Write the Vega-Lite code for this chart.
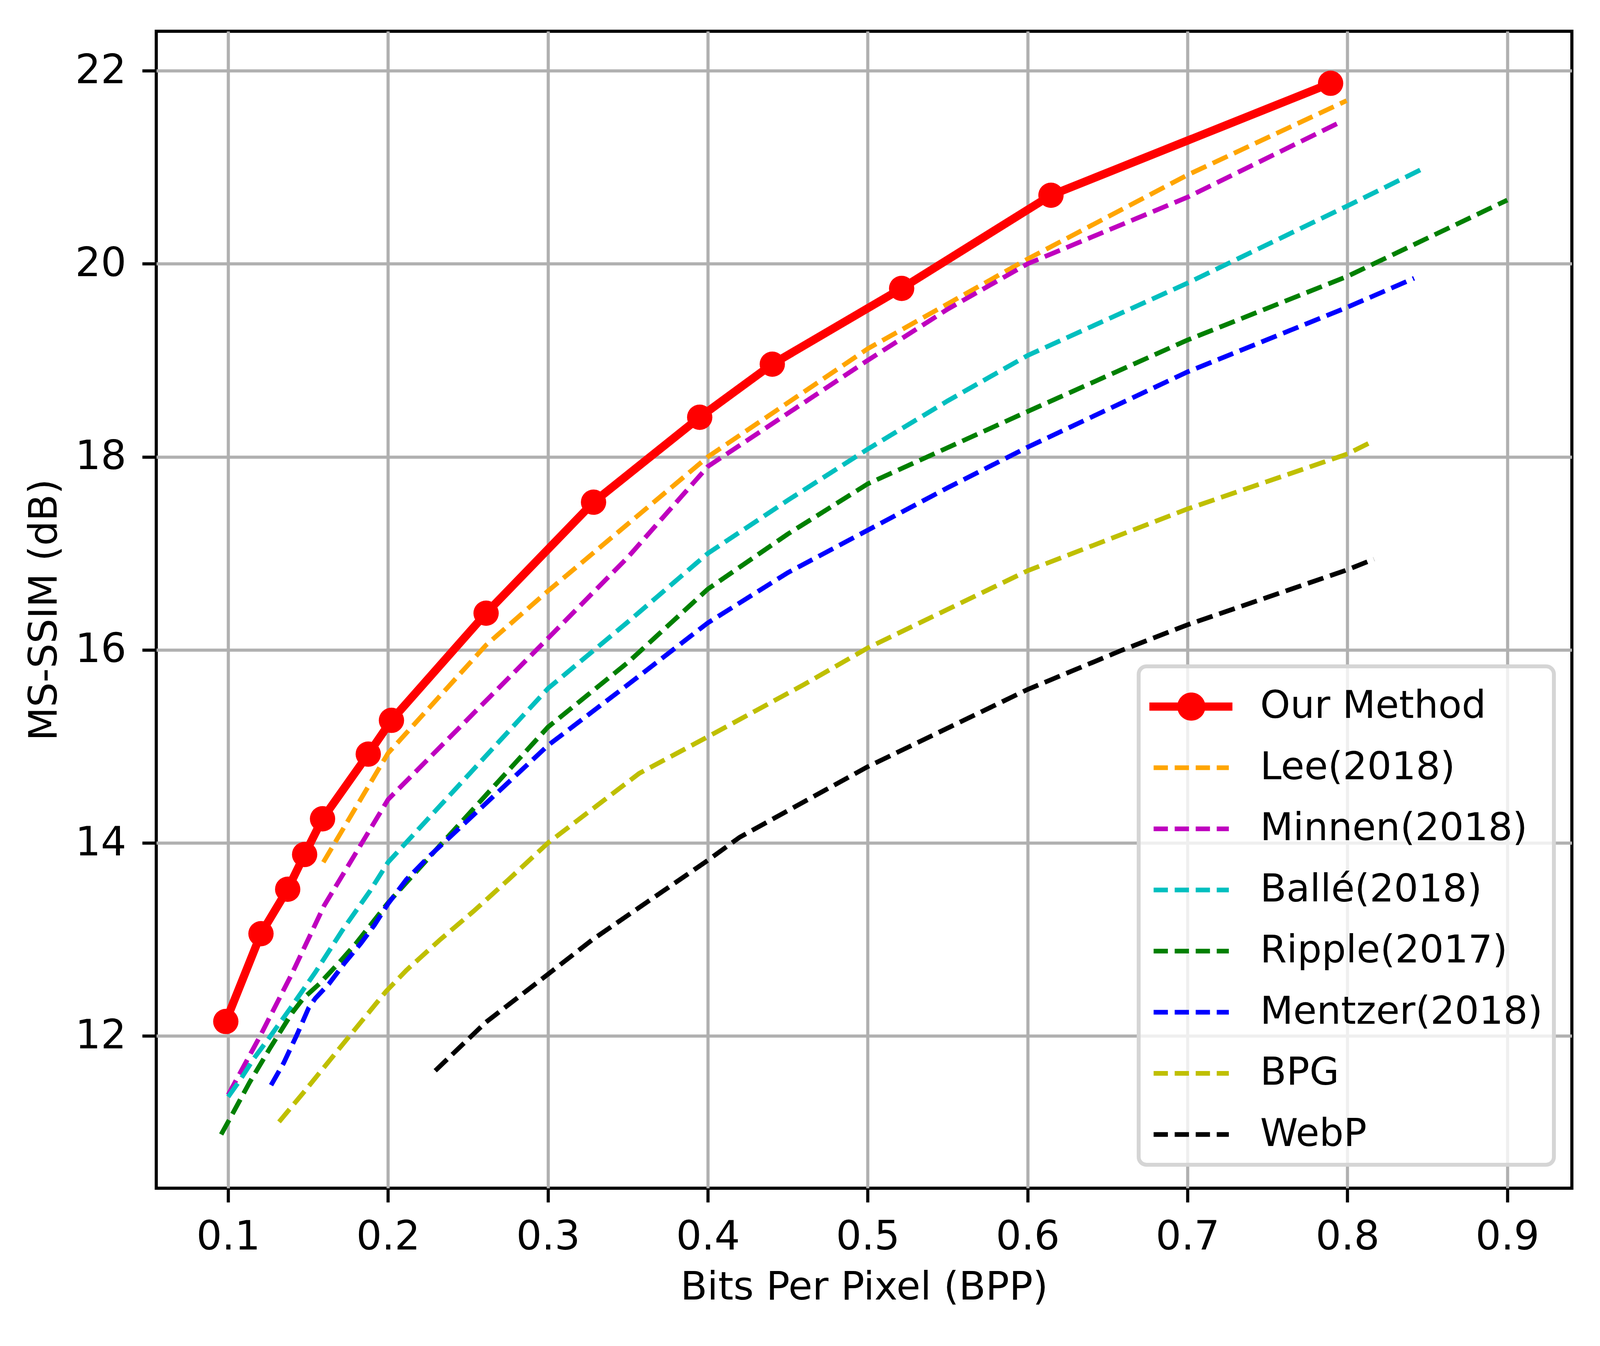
{
  "$schema": "https://vega.github.io/schema/vega-lite/v6.json",
  "width": 4096,
  "height": 3446,
  "autosize": {"type": "fit", "contains": "padding"},
  "padding": {"left": 64, "top": 80, "right": 72, "bottom": 100},
  "background": "white",
  "data": {
    "values": [
      {"method": "Our Method", "bpp": 0.0985, "msssim": 12.15},
      {"method": "Our Method", "bpp": 0.1205, "msssim": 13.06},
      {"method": "Our Method", "bpp": 0.1372, "msssim": 13.52},
      {"method": "Our Method", "bpp": 0.1478, "msssim": 13.88},
      {"method": "Our Method", "bpp": 0.159, "msssim": 14.25},
      {"method": "Our Method", "bpp": 0.1876, "msssim": 14.92},
      {"method": "Our Method", "bpp": 0.2021, "msssim": 15.27},
      {"method": "Our Method", "bpp": 0.2613, "msssim": 16.38},
      {"method": "Our Method", "bpp": 0.3285, "msssim": 17.53},
      {"method": "Our Method", "bpp": 0.3949, "msssim": 18.41},
      {"method": "Our Method", "bpp": 0.4403, "msssim": 18.96},
      {"method": "Our Method", "bpp": 0.5212, "msssim": 19.745},
      {"method": "Our Method", "bpp": 0.6146, "msssim": 20.71},
      {"method": "Our Method", "bpp": 0.7895, "msssim": 21.87},

      {"method": "Lee(2018)", "bpp": 0.1595, "msssim": 13.8},
      {"method": "Lee(2018)", "bpp": 0.2, "msssim": 14.93},
      {"method": "Lee(2018)", "bpp": 0.2613, "msssim": 16.05},
      {"method": "Lee(2018)", "bpp": 0.3, "msssim": 16.61},
      {"method": "Lee(2018)", "bpp": 0.4, "msssim": 18.0},
      {"method": "Lee(2018)", "bpp": 0.5, "msssim": 19.12},
      {"method": "Lee(2018)", "bpp": 0.6, "msssim": 20.05},
      {"method": "Lee(2018)", "bpp": 0.7, "msssim": 20.92},
      {"method": "Lee(2018)", "bpp": 0.7995, "msssim": 21.69},

      {"method": "Minnen(2018)", "bpp": 0.1, "msssim": 11.39},
      {"method": "Minnen(2018)", "bpp": 0.12, "msssim": 12.0},
      {"method": "Minnen(2018)", "bpp": 0.14, "msssim": 12.65},
      {"method": "Minnen(2018)", "bpp": 0.16, "msssim": 13.35},
      {"method": "Minnen(2018)", "bpp": 0.18, "msssim": 13.9},
      {"method": "Minnen(2018)", "bpp": 0.2, "msssim": 14.45},
      {"method": "Minnen(2018)", "bpp": 0.3, "msssim": 16.12},
      {"method": "Minnen(2018)", "bpp": 0.35, "msssim": 16.96},
      {"method": "Minnen(2018)", "bpp": 0.4, "msssim": 17.9},
      {"method": "Minnen(2018)", "bpp": 0.5, "msssim": 19.0},
      {"method": "Minnen(2018)", "bpp": 0.55, "msssim": 19.53},
      {"method": "Minnen(2018)", "bpp": 0.6, "msssim": 20.0},
      {"method": "Minnen(2018)", "bpp": 0.7, "msssim": 20.69},
      {"method": "Minnen(2018)", "bpp": 0.797, "msssim": 21.48},

      {"method": "Ballé(2018)", "bpp": 0.1, "msssim": 11.37},
      {"method": "Ballé(2018)", "bpp": 0.1077, "msssim": 11.55},
      {"method": "Ballé(2018)", "bpp": 0.1162, "msssim": 11.77},
      {"method": "Ballé(2018)", "bpp": 0.1247, "msssim": 11.96},
      {"method": "Ballé(2018)", "bpp": 0.139, "msssim": 12.29},
      {"method": "Ballé(2018)", "bpp": 0.1545, "msssim": 12.66},
      {"method": "Ballé(2018)", "bpp": 0.1716, "msssim": 13.1},
      {"method": "Ballé(2018)", "bpp": 0.1886, "msssim": 13.5},
      {"method": "Ballé(2018)", "bpp": 0.2, "msssim": 13.8},
      {"method": "Ballé(2018)", "bpp": 0.3, "msssim": 15.6},
      {"method": "Ballé(2018)", "bpp": 0.35, "msssim": 16.29},
      {"method": "Ballé(2018)", "bpp": 0.4, "msssim": 17.0},
      {"method": "Ballé(2018)", "bpp": 0.45, "msssim": 17.55},
      {"method": "Ballé(2018)", "bpp": 0.5, "msssim": 18.08},
      {"method": "Ballé(2018)", "bpp": 0.55, "msssim": 18.58},
      {"method": "Ballé(2018)", "bpp": 0.6, "msssim": 19.05},
      {"method": "Ballé(2018)", "bpp": 0.7, "msssim": 19.8},
      {"method": "Ballé(2018)", "bpp": 0.8, "msssim": 20.6},
      {"method": "Ballé(2018)", "bpp": 0.849, "msssim": 21.0},

      {"method": "Ripple(2017)", "bpp": 0.0956, "msssim": 10.98},
      {"method": "Ripple(2017)", "bpp": 0.1006, "msssim": 11.13},
      {"method": "Ripple(2017)", "bpp": 0.1134, "msssim": 11.52},
      {"method": "Ripple(2017)", "bpp": 0.126, "msssim": 11.87},
      {"method": "Ripple(2017)", "bpp": 0.14, "msssim": 12.24},
      {"method": "Ripple(2017)", "bpp": 0.147, "msssim": 12.39},
      {"method": "Ripple(2017)", "bpp": 0.157, "msssim": 12.54},
      {"method": "Ripple(2017)", "bpp": 0.1688, "msssim": 12.75},
      {"method": "Ripple(2017)", "bpp": 0.18, "msssim": 12.96},
      {"method": "Ripple(2017)", "bpp": 0.2, "msssim": 13.38},
      {"method": "Ripple(2017)", "bpp": 0.2295, "msssim": 13.92},
      {"method": "Ripple(2017)", "bpp": 0.3, "msssim": 15.2},
      {"method": "Ripple(2017)", "bpp": 0.35, "msssim": 15.87},
      {"method": "Ripple(2017)", "bpp": 0.4, "msssim": 16.63},
      {"method": "Ripple(2017)", "bpp": 0.45, "msssim": 17.2},
      {"method": "Ripple(2017)", "bpp": 0.5, "msssim": 17.72},
      {"method": "Ripple(2017)", "bpp": 0.6, "msssim": 18.47},
      {"method": "Ripple(2017)", "bpp": 0.7, "msssim": 19.21},
      {"method": "Ripple(2017)", "bpp": 0.8, "msssim": 19.87},
      {"method": "Ripple(2017)", "bpp": 0.9, "msssim": 20.66},

      {"method": "Mentzer(2018)", "bpp": 0.1268, "msssim": 11.49},
      {"method": "Mentzer(2018)", "bpp": 0.1347, "msssim": 11.72},
      {"method": "Mentzer(2018)", "bpp": 0.1432, "msssim": 12.02},
      {"method": "Mentzer(2018)", "bpp": 0.1503, "msssim": 12.29},
      {"method": "Mentzer(2018)", "bpp": 0.1545, "msssim": 12.39},
      {"method": "Mentzer(2018)", "bpp": 0.163, "msssim": 12.54},
      {"method": "Mentzer(2018)", "bpp": 0.173, "msssim": 12.76},
      {"method": "Mentzer(2018)", "bpp": 0.183, "msssim": 12.96},
      {"method": "Mentzer(2018)", "bpp": 0.1915, "msssim": 13.15},
      {"method": "Mentzer(2018)", "bpp": 0.2, "msssim": 13.37},
      {"method": "Mentzer(2018)", "bpp": 0.2114, "msssim": 13.62},
      {"method": "Mentzer(2018)", "bpp": 0.225, "msssim": 13.85},
      {"method": "Mentzer(2018)", "bpp": 0.3, "msssim": 15.01},
      {"method": "Mentzer(2018)", "bpp": 0.35, "msssim": 15.64},
      {"method": "Mentzer(2018)", "bpp": 0.4, "msssim": 16.28},
      {"method": "Mentzer(2018)", "bpp": 0.45, "msssim": 16.8},
      {"method": "Mentzer(2018)", "bpp": 0.5, "msssim": 17.24},
      {"method": "Mentzer(2018)", "bpp": 0.55, "msssim": 17.68},
      {"method": "Mentzer(2018)", "bpp": 0.6, "msssim": 18.1},
      {"method": "Mentzer(2018)", "bpp": 0.7, "msssim": 18.88},
      {"method": "Mentzer(2018)", "bpp": 0.8, "msssim": 19.55},
      {"method": "Mentzer(2018)", "bpp": 0.8417, "msssim": 19.85},

      {"method": "BPG", "bpp": 0.1318, "msssim": 11.11},
      {"method": "BPG", "bpp": 0.1474, "msssim": 11.42},
      {"method": "BPG", "bpp": 0.1759, "msssim": 12.0},
      {"method": "BPG", "bpp": 0.1986, "msssim": 12.46},
      {"method": "BPG", "bpp": 0.2114, "msssim": 12.68},
      {"method": "BPG", "bpp": 0.2327, "msssim": 13.0},
      {"method": "BPG", "bpp": 0.254, "msssim": 13.3},
      {"method": "BPG", "bpp": 0.2753, "msssim": 13.62},
      {"method": "BPG", "bpp": 0.3, "msssim": 14.0},
      {"method": "BPG", "bpp": 0.357, "msssim": 14.72},
      {"method": "BPG", "bpp": 0.4, "msssim": 15.1},
      {"method": "BPG", "bpp": 0.46, "msssim": 15.64},
      {"method": "BPG", "bpp": 0.5, "msssim": 16.02},
      {"method": "BPG", "bpp": 0.6, "msssim": 16.82},
      {"method": "BPG", "bpp": 0.7, "msssim": 17.46},
      {"method": "BPG", "bpp": 0.8, "msssim": 18.03},
      {"method": "BPG", "bpp": 0.8145, "msssim": 18.15},

      {"method": "WebP", "bpp": 0.2295, "msssim": 11.64},
      {"method": "WebP", "bpp": 0.261, "msssim": 12.14},
      {"method": "WebP", "bpp": 0.3, "msssim": 12.64},
      {"method": "WebP", "bpp": 0.328, "msssim": 13.0},
      {"method": "WebP", "bpp": 0.4, "msssim": 13.82},
      {"method": "WebP", "bpp": 0.42, "msssim": 14.06},
      {"method": "WebP", "bpp": 0.5, "msssim": 14.79},
      {"method": "WebP", "bpp": 0.6, "msssim": 15.59},
      {"method": "WebP", "bpp": 0.658, "msssim": 15.99},
      {"method": "WebP", "bpp": 0.7, "msssim": 16.26},
      {"method": "WebP", "bpp": 0.8, "msssim": 16.83},
      {"method": "WebP", "bpp": 0.8166, "msssim": 16.94}
    ]
  },
  "encoding": {
    "x": {
      "field": "bpp",
      "type": "quantitative",
      "scale": {"domain": [0.055, 0.9404], "nice": false, "zero": false},
      "axis": {
        "title": "Bits Per Pixel (BPP)",
        "values": [0.1, 0.2, 0.3, 0.4, 0.5, 0.6, 0.7, 0.8, 0.9],
        "format": ".1f",
        "labelBaseline": "alphabetic",
        "labelPadding": 120,
        "titleBaseline": "alphabetic",
        "titleY": 284
      }
    },
    "y": {
      "field": "msssim",
      "type": "quantitative",
      "scale": {"domain": [10.423, 22.409], "nice": false, "zero": false},
      "axis": {
        "title": "MS-SSIM (dB)",
        "values": [12, 14, 16, 18, 20, 22],
        "format": "d",
        "labelPadding": 41,
        "titleAngle": 270,
        "titleBaseline": "alphabetic",
        "titleX": -256
      }
    }
  },
  "layer": [
    {
      "transform": [{"filter": "false"}],
      "mark": {"type": "point", "filled": true, "size": 22500, "opacity": 1},
      "encoding": {
        "color": {
          "field": "method",
          "type": "nominal",
          "scale": {
            "domain": ["Our Method", "Lee(2018)", "Minnen(2018)", "Ballé(2018)", "Ripple(2017)", "Mentzer(2018)", "BPG", "WebP"],
            "range": ["#ff0000", "#ffa500", "#bf00bf", "#00bfbf", "#008000", "#0000ff", "#bfbf00", "#000000"]
          },
          "legend": {
            "title": null,
            "orient": "none",
            "legendX": 2515,
            "legendY": 1626,
            "symbolSize": 22500,
            "symbolStrokeWidth": 0,
            "symbolOpacity": 1,
            "labelOffset": 133,
            "padding": 28,
            "rowPadding": 32.5,
            "labelLimit": 3000
          }
        },
        "shape": {
          "field": "method",
          "type": "nominal",
          "scale": {
            "domain": ["Our Method", "Lee(2018)", "Minnen(2018)", "Ballé(2018)", "Ripple(2017)", "Mentzer(2018)", "BPG", "WebP"],
            "range": [
              "M-1.008,-0.14H1.827V0.14H-1.008Z M-0.056,0A0.48,0.48 0 1 1 0.904,0A0.48,0.48 0 1 1 -0.056,0Z",
              "M-0.863,-0.08H-0.376V0.08H-0.863Z M-0.144,-0.08H0.343V0.08H-0.144Z M0.573,-0.08H1.06V0.08H0.573Z M1.291,-0.08H1.704V0.08H1.291Z",
              "M-0.863,-0.08H-0.376V0.08H-0.863Z M-0.144,-0.08H0.343V0.08H-0.144Z M0.573,-0.08H1.06V0.08H0.573Z M1.291,-0.08H1.704V0.08H1.291Z",
              "M-0.863,-0.08H-0.376V0.08H-0.863Z M-0.144,-0.08H0.343V0.08H-0.144Z M0.573,-0.08H1.06V0.08H0.573Z M1.291,-0.08H1.704V0.08H1.291Z",
              "M-0.863,-0.08H-0.376V0.08H-0.863Z M-0.144,-0.08H0.343V0.08H-0.144Z M0.573,-0.08H1.06V0.08H0.573Z M1.291,-0.08H1.704V0.08H1.291Z",
              "M-0.863,-0.08H-0.376V0.08H-0.863Z M-0.144,-0.08H0.343V0.08H-0.144Z M0.573,-0.08H1.06V0.08H0.573Z M1.291,-0.08H1.704V0.08H1.291Z",
              "M-0.863,-0.08H-0.376V0.08H-0.863Z M-0.144,-0.08H0.343V0.08H-0.144Z M0.573,-0.08H1.06V0.08H0.573Z M1.291,-0.08H1.704V0.08H1.291Z",
              "M-0.863,-0.08H-0.376V0.08H-0.863Z M-0.144,-0.08H0.343V0.08H-0.144Z M0.573,-0.08H1.06V0.08H0.573Z M1.291,-0.08H1.704V0.08H1.291Z"
            ]
          },
          "legend": {
            "title": null,
            "orient": "none",
            "legendX": 2515,
            "legendY": 1626,
            "symbolSize": 22500,
            "symbolStrokeWidth": 0,
            "symbolOpacity": 1,
            "labelOffset": 133,
            "padding": 28,
            "rowPadding": 32.5,
            "labelLimit": 3000
          }
        }
      }
    },
    {
      "transform": [{"filter": "datum.method != 'Our Method'"}],
      "mark": {"type": "line", "strokeWidth": 12, "strokeDash": [42, 18]},
      "encoding": {
        "stroke": {
          "field": "method",
          "type": "nominal",
          "scale": {
            "domain": ["Lee(2018)", "Minnen(2018)", "Ballé(2018)", "Ripple(2017)", "Mentzer(2018)", "BPG", "WebP"],
            "range": ["#ffa500", "#bf00bf", "#00bfbf", "#008000", "#0000ff", "#bfbf00", "#000000"]
          },
          "legend": null
        }
      }
    },
    {
      "transform": [{"filter": "datum.method == 'Our Method'"}],
      "mark": {"type": "line", "strokeWidth": 21, "color": "#ff0000"},
      "encoding": {}
    },
    {
      "transform": [{"filter": "datum.method == 'Our Method'"}],
      "mark": {"type": "point", "shape": "circle", "filled": true, "size": 4200, "color": "#ff0000", "opacity": 1},
      "encoding": {}
    }
  ],
  "config": {
    "font": "DejaVu Sans",
    "view": {"stroke": "#000000", "strokeWidth": 8},
    "axis": {
      "domain": false,
      "grid": true,
      "gridColor": "#b0b0b0",
      "gridWidth": 8,
      "gridOpacity": 1,
      "ticks": true,
      "tickColor": "#000000",
      "tickWidth": 8,
      "tickSize": 36,
      "labelFont": "DejaVu Sans",
      "labelFontSize": 103,
      "labelColor": "#000000",
      "labelFlush": false,
      "labelOverlap": false,
      "titleFont": "DejaVu Sans",
      "titleFontSize": 100,
      "titleFontWeight": "normal",
      "titleColor": "#000000"
    },
    "legend": {
      "labelFont": "DejaVu Sans",
      "labelFontSize": 98,
      "labelColor": "#000000",
      "strokeColor": "#d5d5d5",
      "strokeWidth": 10,
      "cornerRadius": 20,
      "fillColor": "rgba(255,255,255,0.8)"
    }
  }
}
